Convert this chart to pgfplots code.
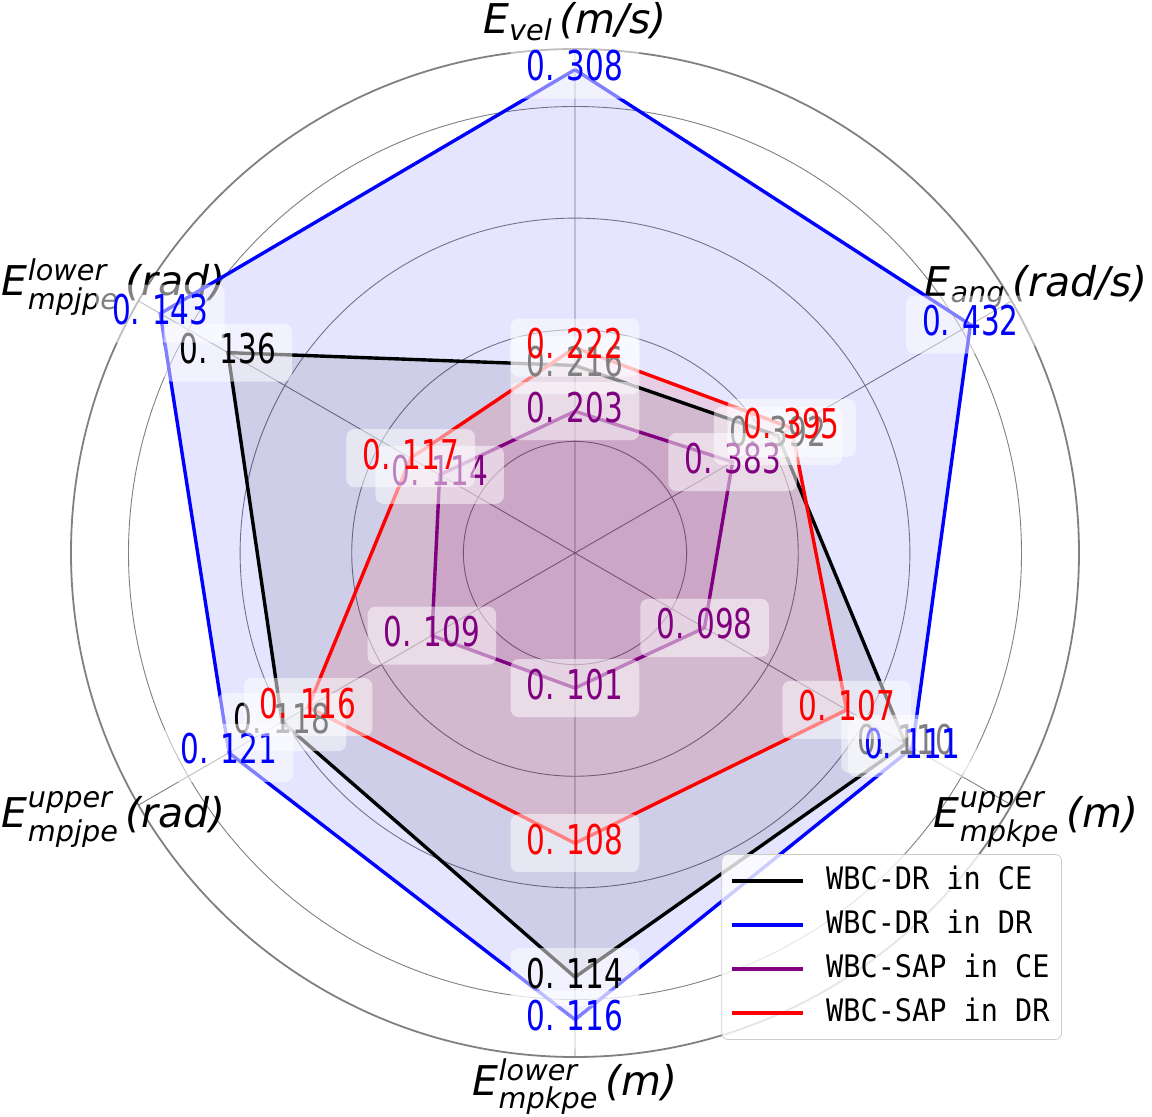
\documentclass[border=0pt]{standalone}
\usepackage{fontspec}
\usepackage{amsmath}
\usepackage{pgfplots}
\pgfplotsset{compat=1.18}
\usepgfplotslibrary{polar}
\newfontfamily\valfont{DejaVu Sans}[FakeStretch=0.72]
\newfontfamily\legfont{DejaVu Sans Mono}[FakeStretch=0.92]
\newfontfamily\labfont{DejaVu Sans}
\definecolor{mplpurple}{RGB}{128,0,128}
\definecolor{mplblue}{RGB}{0,0,255}
\definecolor{mplred}{RGB}{255,0,0}
\newcommand\gp{\hspace{6bp}}
\newcommand\lab[1]{{\labfont\itshape\fontsize{20.5bp}{23bp}\selectfont #1}}
\pgfplotsset{
  vallab/.style={draw=none, mark=none, forget plot, nodes near coords, point meta=explicit symbolic,
    nodes near coords align={center},
    every node near coord/.append style={anchor=center, font=\valfont\fontsize{20.5bp}{22bp}\selectfont,
      text=#1, fill=white, fill opacity=0.5, text opacity=1, rounded corners=4bp,
      inner xsep=8bp, inner ysep=5bp, text height=15bp, text depth=4bp}},
}
\begin{document}
\begin{tikzpicture}
\begin{polaraxis}[
  scale only axis, width=504bp, height=504bp,
  xmin=0, xmax=360, ymin=0, ymax=4.515,
  xtick={30,90,150,210,270,330}, ytick={1,2,3,4},
  xticklabels={}, yticklabels={},
  major tick length=0pt,
  xmajorgrids, ymajorgrids,
  major grid style={draw=gray, line width=0.45bp},
  separate axis lines,
  x axis line style={draw=gray, line width=0.9bp},
  y axis line style={draw=none},
  clip=false,
  legend style={at={(axis description cs:0.983,0.017)}, anchor=south east,
    draw=black!20, rounded corners=3bp, fill=white, fill opacity=0.8, text opacity=1,
    font=\legfont\fontsize{15.5bp}{17bp}\selectfont,
    inner xsep=4bp, inner ysep=4.75bp, row sep=5bp,
    nodes={inner sep=2bp, text height=11bp, text depth=2bp},
    /tikz/every odd column/.append style={column sep=9bp}},
  legend cell align=left,
  legend image code/.code={\draw[#1, line width=1.7bp] (0bp,0bp) -- (35.5bp,0bp);},
]
% fills
\addplot[draw=none, fill=black, fill opacity=0.1, forget plot] coordinates {(90,1.68) (30,2.10) (330,3.42) (270,3.80) (210,3.03) (150,3.59) (90,1.68)};
\addplot[draw=none, fill=mplblue, fill opacity=0.1, forget plot] coordinates {(90,4.33) (30,4.09) (330,3.49) (270,4.18) (210,3.58) (150,4.29) (90,4.33)};
\addplot[draw=none, fill=mplpurple, fill opacity=0.1, forget plot] coordinates {(90,1.27) (30,1.63) (330,1.34) (270,1.21) (210,1.48) (150,1.40) (90,1.27)};
\addplot[draw=none, fill=mplred, fill opacity=0.1, forget plot] coordinates {(90,1.84) (30,2.24) (330,2.81) (270,2.60) (210,2.76) (150,1.70) (90,1.84)};
% axis labels
\node at (axis cs:90,4.76) {\lab{E$_{\text{vel}}$\,(m/s)}};
\node at (axis cs:30,4.77) {\lab{E$_{\text{ang}}$\,(rad/s)}};
\node at (axis cs:330,4.77) {\lab{E$^{\text{upper}}_{\text{mpkpe}}$\,(m)}};
\node at (axis cs:270,4.78) {\lab{E$^{\text{lower}}_{\text{mpkpe}}$\,(m)}};
\node at (axis cs:210,4.77) {\lab{E$^{\text{upper}}_{\text{mpjpe}}$\,(rad)}};
\node at (axis cs:150,4.77) {\lab{E$^{\text{lower}}_{\text{mpjpe}}$\,(rad)}};
% lines
\addplot[draw=black, line width=1.7bp, mark=none] coordinates {(90,1.68) (30,2.10) (330,3.42) (270,3.80) (210,3.03) (150,3.59) (90,1.68)};
\addlegendentry{WBC-DR in CE}
\addplot[draw=mplblue, line width=1.7bp, mark=none] coordinates {(90,4.33) (30,4.09) (330,3.49) (270,4.18) (210,3.58) (150,4.29) (90,4.33)};
\addlegendentry{WBC-DR in DR}
\addplot[draw=mplpurple, line width=1.7bp, mark=none] coordinates {(90,1.27) (30,1.63) (330,1.34) (270,1.21) (210,1.48) (150,1.40) (90,1.27)};
\addlegendentry{WBC-SAP in CE}
\addplot[draw=mplred, line width=1.7bp, mark=none] coordinates {(90,1.84) (30,2.24) (330,2.81) (270,2.60) (210,2.76) (150,1.70) (90,1.84)};
\addlegendentry{WBC-SAP in DR}
% value labels
\addplot[vallab=black] coordinates {(90,1.68)[0.\gp216] (30,2.10)[0.\gp392] (330,3.42)[0.\gp110] (270,3.80)[0.\gp114] (210,3.03)[0.\gp118] (150,3.59)[0.\gp136]};
\addplot[vallab=mplblue] coordinates {(90,4.33)[0.\gp308] (30,4.09)[0.\gp432] (330,3.49)[0.\gp111] (270,4.18)[0.\gp116] (210,3.58)[0.\gp121] (150,4.29)[0.\gp143]};
\addplot[vallab=mplpurple] coordinates {(90,1.27)[0.\gp203] (30,1.63)[0.\gp383] (330,1.34)[0.\gp098] (270,1.21)[0.\gp101] (210,1.48)[0.\gp109] (150,1.40)[0.\gp114]};
\addplot[vallab=mplred] coordinates {(90,1.84)[0.\gp222] (30,2.24)[0.\gp395] (330,2.81)[0.\gp107] (270,2.60)[0.\gp108] (210,2.76)[0.\gp116] (150,1.70)[0.\gp117]};
\coordinate (O) at (axis cs:0,0);
\end{polaraxis}
\pgfresetboundingbox
\path (O) ++(-287.5bp,-282bp) rectangle ++(576bp,558.5bp);
\end{tikzpicture}
\end{document}
